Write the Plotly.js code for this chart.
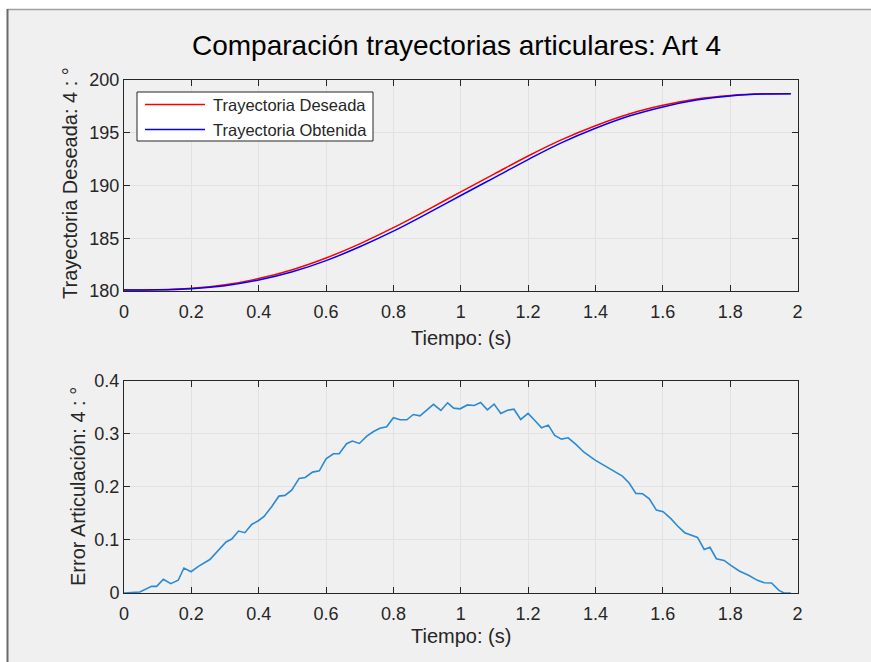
<!DOCTYPE html>
<html>
<head>
<meta charset="utf-8">
<script src="https://cdn.plot.ly/plotly-3.0.1.min.js"></script>
<style>html,body{margin:0;padding:0;background:#fff;}#chart{width:871px;height:662px;}</style>
</head>
<body>
<div id="chart"></div>
<script>
// ---- data ----
const timeTraj = [0, 0.1, 0.2, 0.3, 0.4, 0.5, 0.6, 0.7, 0.8, 0.9, 1.0, 1.1, 1.2, 1.3, 1.4, 1.5, 1.6, 1.7, 1.8, 1.9, 1.98];
const desired  = [180.10, 180.12, 180.26, 180.59, 181.18, 182.02, 183.13, 184.47, 186.00, 187.67, 189.40, 191.10, 192.80, 194.35, 195.67, 196.78, 197.60, 198.20, 198.54, 198.69, 198.70];
const obtained = [180.10, 180.11, 180.22, 180.50, 181.04, 181.82, 182.88, 184.19, 185.67, 187.33, 189.05, 190.75, 192.46, 194.06, 195.42, 196.58, 197.45, 198.10, 198.49, 198.67, 198.70];

const timeErr = [0, 0.047, 0.082, 0.097, 0.117, 0.139, 0.161, 0.178, 0.199, 0.221, 0.255, 0.280, 0.303, 0.320, 0.340, 0.359, 0.379, 0.399, 0.416, 0.439, 0.460, 0.478, 0.498, 0.520, 0.538, 0.560, 0.580, 0.600, 0.622, 0.639, 0.661, 0.678, 0.699, 0.721, 0.741, 0.760, 0.780, 0.800, 0.820, 0.840, 0.859, 0.879, 0.899, 0.919, 0.941, 0.961, 0.979, 0.998, 1.020, 1.040, 1.059, 1.079, 1.099, 1.119, 1.139, 1.158, 1.178, 1.200, 1.220, 1.240, 1.260, 1.279, 1.299, 1.319, 1.342, 1.366, 1.399, 1.431, 1.460, 1.480, 1.500, 1.520, 1.540, 1.560, 1.581, 1.601, 1.624, 1.644, 1.665, 1.685, 1.703, 1.723, 1.740, 1.759, 1.782, 1.802, 1.827, 1.856, 1.881, 1.901, 1.923, 1.945, 1.960, 1.980];
const errVals = [0, 0.002, 0.0125, 0.0125, 0.026, 0.0176, 0.024, 0.047, 0.040, 0.050, 0.063, 0.080, 0.096, 0.1016, 0.1166, 0.1135, 0.129, 0.136, 0.144, 0.163, 0.1824, 0.1837, 0.1937, 0.2157, 0.2175, 0.2276, 0.230, 0.2527, 0.262, 0.262, 0.281, 0.286, 0.2815, 0.2953, 0.304, 0.310, 0.313, 0.330, 0.326, 0.326, 0.336, 0.3335, 0.3448, 0.355, 0.3436, 0.358, 0.348, 0.3467, 0.354, 0.353, 0.3586, 0.3448, 0.3555, 0.338, 0.344, 0.346, 0.3266, 0.338, 0.3248, 0.311, 0.316, 0.2966, 0.2897, 0.2922, 0.2796, 0.265, 0.250, 0.238, 0.2276, 0.220, 0.207, 0.1875, 0.1868, 0.1774, 0.156, 0.153, 0.140, 0.126, 0.1135, 0.109, 0.1047, 0.082, 0.086, 0.0646, 0.0614, 0.052, 0.0414, 0.033, 0.0238, 0.0194, 0.0188, 0.005, 0, 0];

const xTicks = [0, 0.2, 0.4, 0.6, 0.8, 1, 1.2, 1.4, 1.6, 1.8, 2];
const xTickText = ['0', '0.2', '0.4', '0.6', '0.8', '1', '1.2', '1.4', '1.6', '1.8', '2'];
const yTopTicks = [180, 185, 190, 195, 200];
const yBotTicks = [0, 0.1, 0.2, 0.3, 0.4];
const yBotTickText = ['0', '0.1', '0.2', '0.3', '0.4'];

const titleText = 'Comparación trayectorias articulares: Art 4';
const xLabel = 'Tiempo: (s)';
const yTopLabel = 'Trayectoria Deseada: 4 : °';
const yBotLabel = 'Error Articulación: 4 : °';
const legendNames = ['Trayectoria Deseada', 'Trayectoria Obtenida'];
const legendColors = ['#ff0000', '#0000ff'];

// ---- layout helpers ----
const W = 871, H = 662;
const px = v => v / W;
const py = v => 1 - v / H;
const FONT = 'Liberation Sans, Arial, sans-serif';
const AX = '#262626';

function axisCommon(extra) {
  return Object.assign({
    showline: true, linecolor: AX, linewidth: 1, mirror: 'ticks',
    ticks: 'inside', ticklen: 6, tickcolor: AX, tickwidth: 1,
    showgrid: true, gridcolor: '#e2e2e2', gridwidth: 1,
    zeroline: false, tickfont: {family: FONT, size: 18, color: AX},
    fixedrange: true
  }, extra);
}

const traces = [
  {x: timeTraj, y: desired, type: 'scatter', mode: 'lines', name: legendNames[0],
   line: {color: legendColors[0], width: 1.5, shape: 'spline'}, xaxis: 'x', yaxis: 'y'},
  {x: timeTraj, y: obtained, type: 'scatter', mode: 'lines', name: legendNames[1],
   line: {color: legendColors[1], width: 1.5, shape: 'spline'}, xaxis: 'x', yaxis: 'y'},
  {x: timeErr, y: errVals, type: 'scatter', mode: 'lines', showlegend: false,
   line: {color: '#2a8ad6', width: 1.6}, xaxis: 'x2', yaxis: 'y2'}
];

// custom legend (MATLAB style: long line samples)
const legShapes = [
  {type: 'rect', xref: 'paper', yref: 'paper', x0: px(137), x1: px(373), y0: py(141), y1: py(92),
   fillcolor: '#ffffff', line: {color: AX, width: 1}, layer: 'above'}
];
const legAnn = [];
legendNames.forEach((nm, i) => {
  const yy = 104.5 + i * 25;
  legShapes.push({type: 'line', xref: 'paper', yref: 'paper', x0: px(145), x1: px(205), y0: py(yy), y1: py(yy),
    line: {color: legendColors[i], width: 1.5}, layer: 'above'});
  legAnn.push({text: nm, xref: 'paper', yref: 'paper', x: px(211), y: py(yy), xanchor: 'left', yanchor: 'middle',
    showarrow: false, font: {family: FONT, size: 16.5, color: AX}});
});

const layout = {
  width: W, height: H,
  margin: {l: 0, r: 0, t: 0, b: 0},
  paper_bgcolor: '#ffffff', plot_bgcolor: '#ffffff',
  showlegend: false,
  xaxis: axisCommon({domain: [px(124), px(797.5)], range: [0, 2], tickvals: xTicks, ticktext: xTickText, anchor: 'y', ticklabelstandoff: 4}),
  yaxis: axisCommon({domain: [py(291), py(80)], range: [180, 200], tickvals: yTopTicks, anchor: 'x'}),
  xaxis2: axisCommon({domain: [px(124), px(797.5)], range: [0, 2], tickvals: xTicks, ticktext: xTickText, anchor: 'y2', ticklabelstandoff: 4}),
  yaxis2: axisCommon({domain: [py(593), py(380.5)], range: [0, 0.4], tickvals: yBotTicks, ticktext: yBotTickText, anchor: 'x2'}),
  shapes: [
    {type: 'rect', xref: 'paper', yref: 'paper', x0: px(8), x1: 1, y0: 0, y1: py(10),
     fillcolor: '#f0f0f0', line: {width: 0}, layer: 'below'},
    {type: 'line', xref: 'paper', yref: 'paper', x0: px(7), x1: 1, y0: py(9.5), y1: py(9.5),
     line: {color: '#a0a0a0', width: 1.5}, layer: 'below'},
    {type: 'line', xref: 'paper', yref: 'paper', x0: px(7.5), x1: px(7.5), y0: 0, y1: py(9),
     line: {color: '#6a6a6a', width: 2}, layer: 'below'}
  ].concat(legShapes),
  annotations: [
    {text: titleText, xref: 'paper', yref: 'paper', x: px(456), y: py(45), xanchor: 'center', yanchor: 'middle',
     showarrow: false, font: {family: FONT, size: 28, color: '#000000'}},
    {text: xLabel, xref: 'paper', yref: 'paper', x: px(461), y: py(338), xanchor: 'center', yanchor: 'middle',
     showarrow: false, font: {family: FONT, size: 20, color: AX}},
    {text: xLabel, xref: 'paper', yref: 'paper', x: px(461), y: py(636), xanchor: 'center', yanchor: 'middle',
     showarrow: false, font: {family: FONT, size: 20, color: AX}},
    {text: yTopLabel, xref: 'paper', yref: 'paper', x: px(70), y: py(183), xanchor: 'center', yanchor: 'middle',
     textangle: -90, showarrow: false, font: {family: FONT, size: 20, color: AX}},
    {text: yBotLabel, xref: 'paper', yref: 'paper', x: px(78), y: py(487), xanchor: 'center', yanchor: 'middle',
     textangle: -90, showarrow: false, font: {family: FONT, size: 20, color: AX}}
  ].concat(legAnn)
};

Plotly.newPlot('chart', traces, layout, {displayModeBar: false, staticPlot: true});
</script>
</body>
</html>
